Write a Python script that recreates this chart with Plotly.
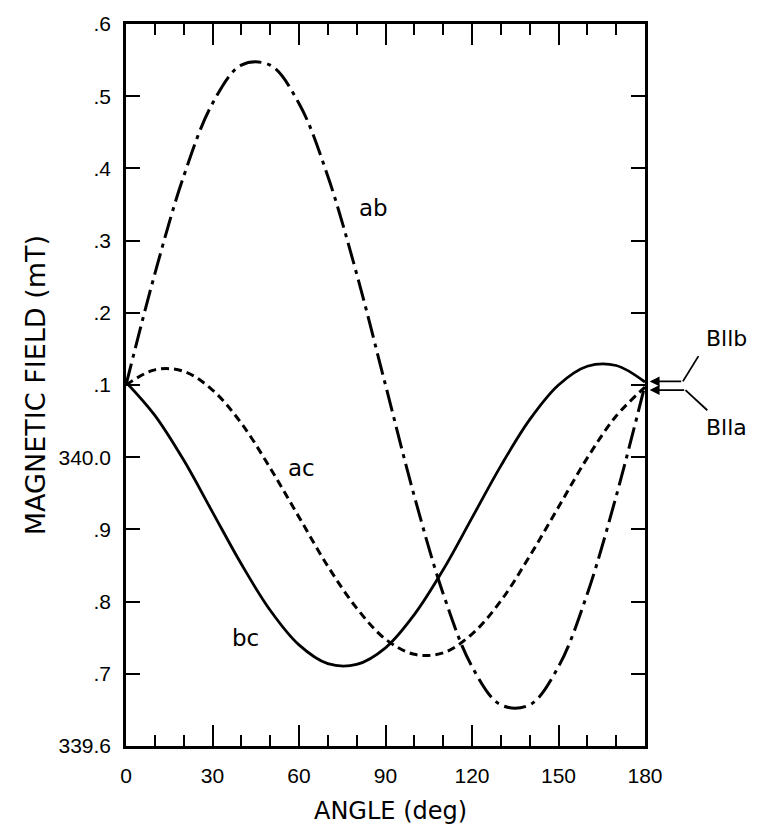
import plotly.graph_objects as go

# ---- data ----
angle = [0, 10, 20, 30, 40, 50, 60, 70, 80, 90, 100, 110, 120, 130, 140, 150, 160, 170, 180]
ab = [340.100, 340.254, 340.389, 340.490, 340.543, 340.543, 340.490, 340.389, 340.254, 340.100,
      339.946, 339.811, 339.710, 339.657, 339.657, 339.710, 339.811, 339.946, 340.100]
ac = [340.100, 340.121, 340.119, 340.093, 340.047, 339.985, 339.917, 339.849, 339.791, 339.748,
      339.727, 339.729, 339.755, 339.801, 339.863, 339.931, 339.999, 340.057, 340.097]
bc = [340.104, 340.058, 339.996, 339.924, 339.852, 339.788, 339.740, 339.714, 339.713, 339.736,
      339.782, 339.844, 339.916, 339.988, 340.052, 340.100, 340.126, 340.127, 340.104]

x_ticks = [0, 30, 60, 90, 120, 150, 180]
y_ticks = [339.6, 339.7, 339.8, 339.9, 340.0, 340.1, 340.2, 340.3, 340.4, 340.5, 340.6]
y_ticktext = ["339.6", ".7", ".8", ".9", "340.0", ".1", ".2", ".3", ".4", ".5", ".6"]

curve_labels = ["ab", "ac", "bc"]
label_x = [86, 61, 41.5]
label_y = [340.345, 339.985, 339.75]

orient_labels = ["Bllb", "Blla"]

TICKFONT = dict(family="Liberation Sans, Arial, sans-serif", size=21, color="black")
LBLFONT = dict(family="DejaVu Sans, Verdana, sans-serif", size=23, color="black")
ORFONT = dict(family="DejaVu Sans, Verdana, sans-serif", size=22, color="black")
TITLEFONT_X = dict(family="DejaVu Sans, Verdana, sans-serif", size=24, color="black")
TITLEFONT_Y = dict(family="DejaVu Sans, Verdana, sans-serif", size=27, color="black")

fig = go.Figure()
fig.add_trace(go.Scatter(x=angle, y=ab, mode="lines", line=dict(color="black", width=3, dash="22px,6px,4px,6px", shape="spline"), showlegend=False))
fig.add_trace(go.Scatter(x=angle, y=ac, mode="lines", line=dict(color="black", width=3, dash="8px,5px", shape="spline"), showlegend=False))
fig.add_trace(go.Scatter(x=angle, y=bc, mode="lines", line=dict(color="black", width=2.8, shape="spline"), showlegend=False))

for t, xx, yy in zip(curve_labels, label_x, label_y):
    fig.add_annotation(x=xx, y=yy, text=t, showarrow=False, font=LBLFONT, xref="x", yref="y")

# orientation labels and bent arrows (paper coordinates; y paper 0.5 == 340.1)
fig.add_annotation(x=1.157, y=0.565, xref="paper", yref="paper", text=orient_labels[0], showarrow=False,
                   font=ORFONT, xanchor="center", yanchor="middle")
fig.add_annotation(x=1.157, y=0.441, xref="paper", yref="paper", text=orient_labels[1], showarrow=False,
                   font=ORFONT, xanchor="center", yanchor="middle")
# horizontal arrows with heads (tail offset in pixels)
fig.add_annotation(x=1.009, y=0.505, xref="paper", yref="paper", ax=33, ay=0,
                   showarrow=True, arrowhead=2, arrowsize=1.1, arrowwidth=1.8, arrowcolor="black", text="")
fig.add_annotation(x=1.009, y=0.493, xref="paper", yref="paper", ax=36, ay=0,
                   showarrow=True, arrowhead=2, arrowsize=1.1, arrowwidth=1.8, arrowcolor="black", text="")
fig.add_shape(type="line", xref="paper", yref="paper", x0=1.073, y0=0.505, x1=1.103, y1=0.540, line=dict(color="black", width=1.8))
fig.add_shape(type="line", xref="paper", yref="paper", x0=1.078, y0=0.493, x1=1.120, y1=0.465, line=dict(color="black", width=1.8))

fig.update_xaxes(range=[0, 180], tickmode="array", tickvals=x_ticks, ticktext=[str(v) for v in x_ticks],
                 ticks="inside", ticklen=21, tickwidth=2, tickcolor="black",
                 minor=dict(ticks="inside", ticklen=11, tickwidth=2, tickcolor="black", dtick=10, tick0=0),
                 showline=True, linewidth=2.5, linecolor="black", mirror="ticks",
                 showgrid=False, zeroline=False, tickfont=TICKFONT, ticklabelstandoff=9)
fig.update_yaxes(range=[339.6, 340.6], tickmode="array", tickvals=y_ticks, ticktext=y_ticktext,
                 ticks="inside", ticklen=14, tickwidth=2, tickcolor="black",
                 showline=True, linewidth=2.5, linecolor="black", mirror="ticks",
                 showgrid=False, zeroline=False, tickfont=TICKFONT, ticklabelstandoff=8)

fig.add_annotation(x=0.509, y=-0.09, xref="paper", yref="paper", text="ANGLE (deg)", showarrow=False,
                   font=TITLEFONT_X, xanchor="center", yanchor="middle")
fig.add_annotation(x=-0.175, y=0.5, xref="paper", yref="paper", text="MAGNETIC FIELD (mT)", showarrow=False,
                   textangle=-90, font=TITLEFONT_Y, xanchor="center", yanchor="middle")

fig.update_layout(width=765, height=827, margin=dict(l=126, r=120, t=20, b=81),
                  plot_bgcolor="white", paper_bgcolor="white")

fig.write_html("out.html")
